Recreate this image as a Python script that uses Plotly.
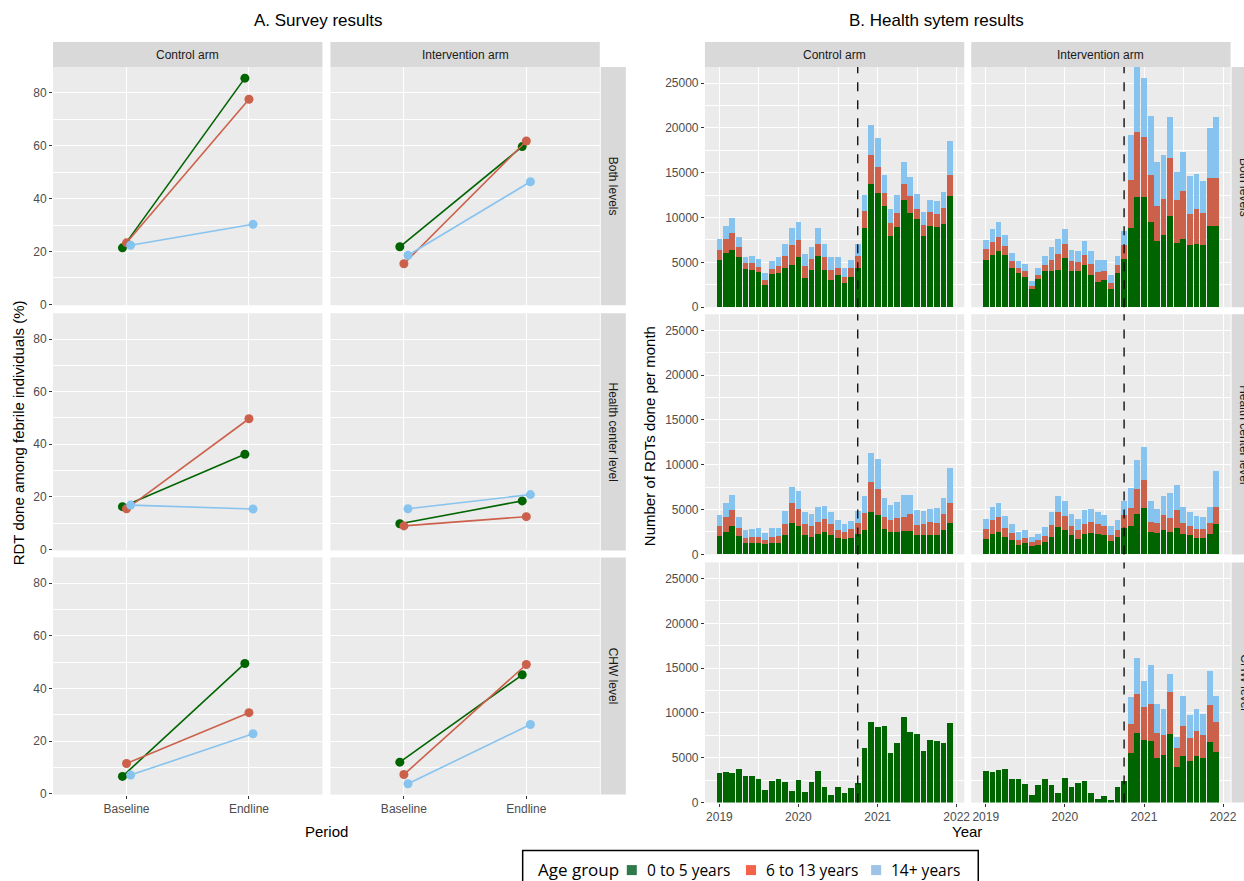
import pandas as pd
import plotly.graph_objects as go

W, H = 1244, 881
# plotly leaves ~7.6 px at the right and bottom of the plot area here;
# positions below are target-picture pixels mapped onto that area
EDGE = 7.6

age_groups = ['0 to 5 years', '6 to 13 years', '14+ years']
arms = ['Control arm', 'Intervention arm']
levels = ['Both levels', 'Health center level', 'CHW level']
periods = ['Baseline', 'Endline']

# A. survey: % RDT done among febrile individuals
# facet order: ctrl/both, int/both, ctrl/HC, int/HC, ctrl/CHW, int/CHW
u5_baseline = [21.4, 21.8, 16.3, 9.8, 6.6, 12.0]
u5_endline = [85.6, 59.7, 36.2, 18.5, 49.5, 45.2]
a6_13_baseline = [23.3, 15.4, 15.5, 9.0, 11.5, 7.3]
a6_13_endline = [77.6, 61.8, 49.7, 12.5, 30.8, 49.1]
a14_baseline = [22.4, 18.6, 16.9, 15.5, 7.1, 3.8]
a14_endline = [30.3, 46.4, 15.4, 20.9, 22.8, 26.3]

# B. health system: monthly RDTs, Jan 2019 - Dec 2021
months = pd.date_range('2019-01-01', periods=36, freq='MS')
intervention_start = '2020-10-01'

ctrl_both_u5 = [5300, 6000, 6400, 5600, 4300, 4200, 3900, 2500, 3700, 3800, 4400, 4700,
                5600, 3300, 4200, 5700, 4200, 3000, 3600, 2700, 3400, 4400, 8800, 13800,
                12800, 11300, 8000, 9000, 12000, 10500, 9800, 8000, 9100, 9000, 9300, 12400]
ctrl_both_6to13 = [1100, 1600, 1900, 1100, 600, 700, 600, 500, 600, 800, 1300, 2200,
                   1900, 1300, 1200, 1400, 1400, 1100, 800, 700, 1000, 1300, 1900, 3200,
                   2900, 1400, 1400, 1500, 1700, 1900, 1200, 1200, 1500, 1400, 1800, 2300]
ctrl_both_14p = [1200, 1500, 1700, 1100, 700, 800, 900, 800, 900, 1000, 1400, 1900,
                 2000, 1300, 1300, 1700, 1500, 1500, 1200, 1000, 900, 1300, 1800, 3300,
                 3200, 2100, 1600, 2000, 2500, 2100, 1600, 1400, 1400, 1500, 1800, 3800]

int_both_u5 = [5320, 5840, 6320, 5800, 4320, 3800, 3420, 2010, 3125, 4020, 4020, 4170,
               5540, 4020, 4020, 4760, 3610, 2830, 3090, 2010, 3800, 5430, 8850, 12350,
               12280, 9490, 7440, 8110, 10230, 7140, 7590, 6960, 7070, 6920, 9110, 9110]
int_both_6to13 = [1150, 1490, 1570, 1000, 810, 520, 600, 370, 485, 740, 1300, 1780,
                  1530, 1110, 1040, 1120, 1230, 1110, 1000, 670, 890, 1560, 5290, 7250,
                  6690, 5280, 3830, 3980, 6400, 4840, 5430, 3460, 3900, 3570, 5320, 5320]
int_both_14p = [1080, 1410, 1600, 1310, 930, 810, 850, 520, 780, 970, 1380, 1710,
                1630, 1270, 1190, 1560, 1450, 1380, 1230, 970, 1040, 1490, 5130, 7190,
                6630, 6620, 4910, 4910, 4570, 3160, 4280, 4240, 3870, 3570, 5580, 6850]

ctrl_hc_u5 = [2050, 2540, 3130, 2010, 1310, 1310, 1310, 1120, 1230, 1270, 2130, 3470,
              3170, 2160, 1980, 2240, 2500, 2130, 1830, 1680, 1830, 2240, 2720, 4780,
              4440, 2800, 2500, 2500, 2610, 2650, 2160, 2160, 2160, 2200, 2760, 3510]
ctrl_hc_6to13 = [1120, 1640, 1830, 980, 560, 590, 590, 520, 710, 780, 1300, 2240,
                 1870, 1200, 1230, 1420, 1460, 1230, 930, 780, 970, 1300, 1910, 3280,
                 2870, 1380, 1310, 1530, 1610, 1900, 1120, 1270, 1420, 1340, 1720, 2240]
ctrl_hc_14p = [1200, 1570, 1720, 1150, 850, 900, 1010, 790, 970, 940, 1420, 1790,
               2050, 1380, 1340, 1640, 1490, 1380, 1080, 940, 930, 1310, 1860, 3250,
               3290, 2130, 1750, 1870, 2460, 2050, 1680, 1420, 1500, 1650, 1830, 3840]

int_hc_u5 = [1750, 2310, 2540, 1980, 1640, 1040, 1230, 970, 1040, 1340, 1980, 3060,
             2720, 2130, 1720, 2240, 2350, 2240, 2160, 1530, 1900, 2910, 3210, 4510,
             5190, 2500, 2350, 2690, 2460, 2990, 2310, 2160, 1870, 1790, 2240, 3360]
int_hc_6to13 = [1120, 1570, 1640, 1010, 750, 600, 600, 370, 530, 750, 1300, 1720,
                1530, 1040, 970, 1160, 1230, 1120, 1010, 630, 860, 1490, 2010, 2800,
                3090, 1160, 1120, 1680, 1640, 1970, 1160, 1010, 1000, 1010, 1270, 1980]
int_hc_14p = [1120, 1420, 1570, 1260, 1040, 820, 860, 600, 740, 1010, 1460, 1710,
              1720, 1310, 1230, 1530, 1500, 1380, 1270, 1010, 1080, 1530, 2170, 3210,
              3730, 2310, 1640, 2090, 2730, 2730, 1790, 1610, 1460, 1340, 1750, 3990]

ctrl_chw_u5 = [3250, 3400, 3320, 3690, 2990, 2990, 2660, 1370, 2440, 2660, 2290, 1290,
               2470, 1220, 2250, 3470, 1700, 850, 1770, 1030, 1590, 2210, 6090, 9040,
               8410, 8520, 5570, 6640, 9520, 7900, 7680, 5790, 7010, 6900, 6640, 8930]

int_chw_u5 = [3560, 3410, 3670, 3740, 2630, 2630, 2070, 890, 1960, 2590, 1930, 1070,
              2700, 1740, 2190, 2370, 1110, 440, 780, 330, 1740, 2370, 5520, 7740,
              6960, 6850, 4960, 5260, 7670, 3960, 5190, 4670, 5190, 5000, 6780, 5590]
int_chw_6to13 = [0, 0, 0, 0, 0, 0, 0, 0, 0, 0, 0, 0,
                 0, 0, 0, 0, 0, 0, 0, 0, 0, 0, 3290, 4370,
                 3740, 4110, 2780, 2300, 4700, 2150, 3330, 2480, 2770, 2590, 4070, 3410]
int_chw_14p = [0, 0, 0, 0, 0, 0, 0, 0, 0, 0, 0, 0,
               0, 0, 0, 0, 0, 0, 0, 0, 0, 0, 2970, 4000,
               2820, 4410, 3260, 2850, 1930, 1190, 3410, 2590, 2520, 2260, 3820, 2890]

colors = ['#006400', '#CC614B', '#87C3EF']
legend_colors = ['#2F7A4B', '#F5624A', '#9DC3E6']

# pixel boxes of the facets in the target picture (left group, right group)
LEFT_COLS = [(53, 322), (330, 599)]
LEFT_ROWS = [(67, 305), (313, 550), (557, 794)]
RIGHT_COLS = [(704, 963), (970, 1229)]
RIGHT_ROWS = [(67, 307), (314, 554), (562, 802)]


def fx(p):
    return p / (W - EDGE)


def fy(p):
    return 1 - p / (H - EDGE)


FONT = 'Liberation Sans, Arial, sans-serif'
tick_font = dict(family=FONT, size=12, color='#4D4D4D')
strip_font = dict(family=FONT, size=12, color='#1A1A1A')
grid = dict(showgrid=True, gridcolor='white', gridwidth=1.2, zeroline=False,
            showline=False, tickfont=tick_font, tickcolor='#333333', ticklen=3)

fig = go.Figure()
shapes = []
annotations = []


def ax_suffix(n):
    return '' if n == 1 else str(n)


def add_facet_axes(n, cols, rows, r, c, xkw, ykw):
    s = ax_suffix(n)
    x0, x1 = cols[c]
    y0, y1 = rows[r]
    fig.update_layout({
        'xaxis' + s: dict(domain=[fx(x0), fx(x1)], anchor='y' + s,
                          showticklabels=(r == 2), ticks='outside' if r == 2 else '',
                          **grid, **xkw),
        'yaxis' + s: dict(domain=[fy(y1), fy(y0)], anchor='x' + s,
                          showticklabels=(c == 0), ticks='outside' if c == 0 else '',
                          **grid, **ykw),
    })


def add_strips(cols, rows):
    for c, arm in enumerate(arms):
        x0, x1 = cols[c]
        shapes.append(dict(type='rect', xref='paper', yref='paper', x0=fx(x0), x1=fx(x1),
                           y0=fy(67), y1=fy(42), fillcolor='#D9D9D9', line_width=0,
                           layer='below'))
        annotations.append(dict(text=arm, x=fx((x0 + x1) / 2), y=fy(54.5), font=strip_font))
    sx = cols[1][1] + 1
    for r, lev in enumerate(levels):
        y0, y1 = rows[r]
        shapes.append(dict(type='rect', xref='paper', yref='paper', x0=fx(sx), x1=fx(sx + 25),
                           y0=fy(y1), y1=fy(y0), fillcolor='#D9D9D9', line_width=0,
                           layer='below'))
        annotations.append(dict(text=lev, x=fx(sx + 12.5), y=fy((y0 + y1) / 2),
                                textangle=90, font=strip_font))


# ---- A. Survey results ----
survey = [(u5_baseline, u5_endline), (a6_13_baseline, a6_13_endline), (a14_baseline, a14_endline)]
for i in range(6):
    r, c = divmod(i, 2)
    n = i + 1
    add_facet_axes(n, LEFT_COLS, LEFT_ROWS, r, c,
                   dict(type='category', categoryorder='array', categoryarray=periods,
                        range=[-0.6, 1.6]),
                   dict(range=[-0.3, 89.8], tick0=0, dtick=20,
                        minor=dict(dtick=10, showgrid=True, gridcolor='white', gridwidth=0.6)))
    for g, (base, end) in enumerate(survey):
        fig.add_trace(go.Scatter(
            x=periods, y=[base[i], end[i]], mode='lines+markers', offsetgroup=str(g),
            line=dict(color=colors[g], width=1.6), marker=dict(color=colors[g], size=9),
            name=age_groups[g], xaxis='x' + ax_suffix(n), yaxis='y' + ax_suffix(n)))
add_strips(LEFT_COLS, LEFT_ROWS)

# ---- B. Health system results ----
hmis = [
    [ctrl_both_u5, ctrl_both_6to13, ctrl_both_14p],
    [int_both_u5, int_both_6to13, int_both_14p],
    [ctrl_hc_u5, ctrl_hc_6to13, ctrl_hc_14p],
    [int_hc_u5, int_hc_6to13, int_hc_14p],
    [ctrl_chw_u5],
    [int_chw_u5, int_chw_6to13, int_chw_14p],
]
years = ['2019-01-01', '2020-01-01', '2021-01-01', '2022-01-01']
mid_years = ['2019-07-02', '2020-07-02', '2021-07-02']
bar_width = 26.5 * 24 * 3600 * 1000
for i in range(6):
    r, c = divmod(i, 2)
    n = i + 7
    s = ax_suffix(n)
    add_facet_axes(n, RIGHT_COLS, RIGHT_ROWS, r, c,
                   dict(type='date', range=['2018-10-26', '2022-02-05'], tickmode='array',
                        tickvals=years, ticktext=[y[:4] for y in years],
                        minor=dict(tickmode='array', tickvals=mid_years, showgrid=True,
                                   gridcolor='white', gridwidth=0.6)),
                   dict(range=[0, 26800], tick0=0, dtick=5000, tickformat='d',
                        minor=dict(dtick=2500, showgrid=True, gridcolor='white', gridwidth=0.6)))
    for g, vals in enumerate(hmis[i]):
        fig.add_trace(go.Bar(x=months, y=vals, width=bar_width, marker_color=colors[g],
                             marker_line_width=0, name=age_groups[g],
                             xaxis='x' + s, yaxis='y' + s))
    shapes.append(dict(type='line', xref='x' + s, yref='y' + s + ' domain',
                       x0=intervention_start, x1=intervention_start, y0=0, y1=1,
                       line=dict(color='black', width=1.3, dash='dash')))
add_strips(RIGHT_COLS, RIGHT_ROWS)

# legend box drawn by hand (plotly's legend would push the bottom margin);
# like the reference, its lower edge runs off the bottom of the picture
legend_font = 'Open Sans, sans-serif'
shapes.append(dict(type='rect', xref='paper', yref='paper', x0=fx(522), x1=fx(977),
                   y0=fy(888), y1=fy(850), fillcolor='white',
                   line=dict(color='black', width=1.5)))
annotations.append(dict(text='Age group', x=fx(535), y=fy(869), xanchor='left',
                        font=dict(family=legend_font, size=17, color='black')))
swatch_x = [626, 745, 870]
for g, name in enumerate(age_groups):
    x0 = swatch_x[g]
    shapes.append(dict(type='rect', xref='paper', yref='paper', x0=fx(x0), x1=fx(x0 + 10),
                       y0=fy(874.5), y1=fy(864.5), fillcolor=legend_colors[g], line_width=0))
    annotations.append(dict(text=name, x=fx(x0 + 18), y=fy(869), xanchor='left',
                            font=dict(family=legend_font, size=15.5, color='black')))

# titles
title_font = dict(family=FONT, size=17, color='black')
axis_font = dict(family=FONT, size=15, color='black')
annotations += [
    dict(text='A. Survey results', x=fx(318), y=fy(20), font=title_font),
    dict(text='B. Health sytem results', x=fx(935), y=fy(20), font=title_font),
    dict(text='Period', x=fx(326), y=fy(831), font=axis_font),
    dict(text='Year', x=fx(966), y=fy(831), font=axis_font),
    dict(text='RDT done among febrile individuals (%)', x=fx(18), y=fy(433),
         textangle=-90, font=axis_font),
    dict(text='Number of RDTs done per month', x=fx(648), y=fy(436),
         textangle=-90, font=axis_font),
]
for a in annotations:
    a.setdefault('xanchor', 'center')
    a.update(xref='paper', yref='paper', showarrow=False, yanchor='middle')

fig.update_layout(
    width=W, height=H, margin=dict(l=0, r=0, t=0, b=0),
    paper_bgcolor='white', plot_bgcolor='#EBEBEB', showlegend=False,
    barmode='stack', scattermode='group', scattergap=0.9,
    shapes=shapes, annotations=annotations,
)

# drop the default page margin so the figure sits at the window's corner
fig.write_html('out.html', config={'displayModeBar': False},
               post_script="document.body.style.margin = '0';")
